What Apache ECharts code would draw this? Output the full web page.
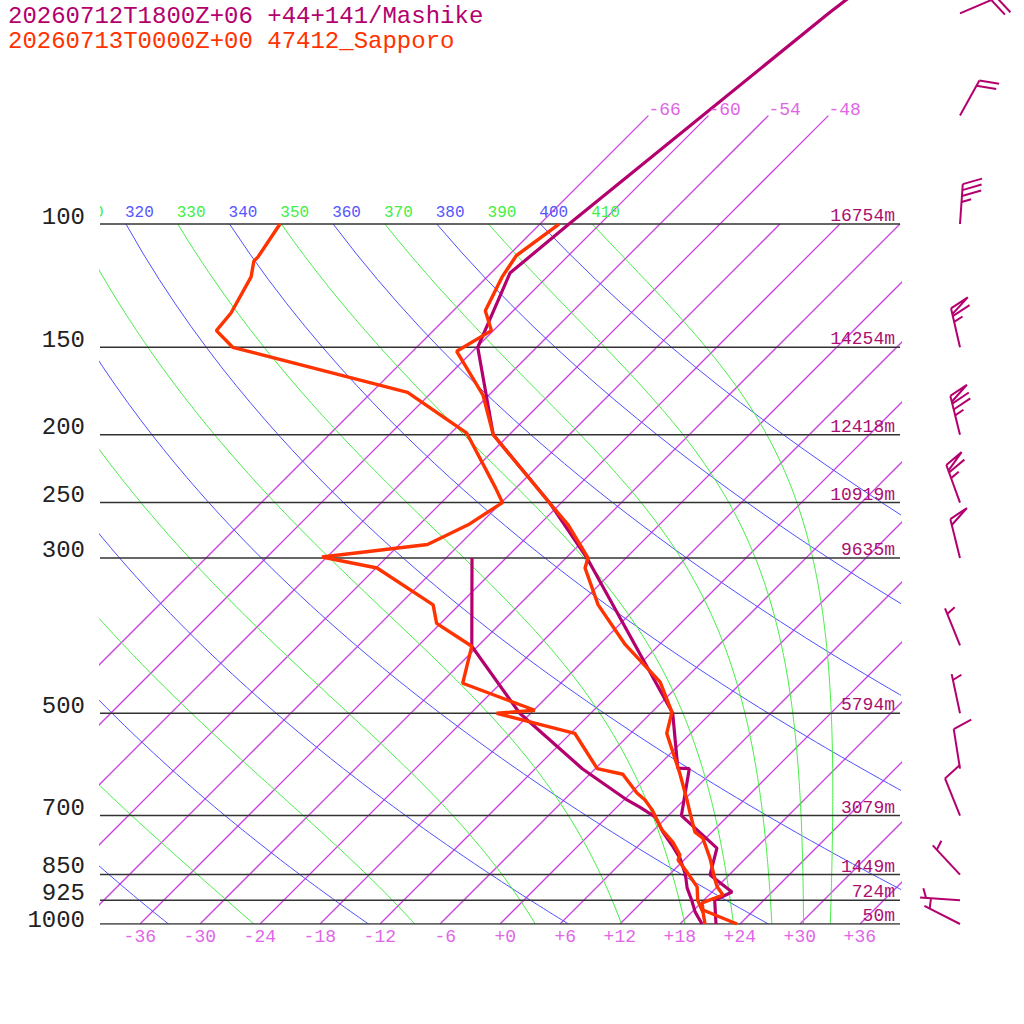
<!DOCTYPE html>
<html>
<head>
<meta charset="utf-8">
<title>Skew-T Mashike / Sapporo</title>
<script src="https://cdn.jsdelivr.net/npm/echarts@6.0.0/dist/echarts.min.js"></script>
<style>
  html, body { margin: 0; padding: 0; background: #fff; }
  #chart { width: 1024px; height: 1024px; }
</style>
</head>
<body>
<div id="chart"></div>
<script>
// pressure levels drawn as horizontal lines, with standard heights
var levelP = [100, 150, 200, 250, 300, 500, 700, 850, 925, 1000];
var levelH = ['16754m', '14254m', '12418m', '10919m', '9635m', '5794m', '3079m', '1449m', '724m', '50m'];
var levelDy = [-7, -7, -7, -7, -7, -7, -7, -8, -7, -4];
var tempTicks = [-36, -30, -24, -18, -12, -6, 0, 6, 12, 18, 24, 30, 36];
var isoTemps = [-66, -60, -54, -48, -42, -36, -30, -24, -18, -12, -6, 0, 6, 12, 18, 24, 30, 36];
var isoTopLabels = [-66, -60, -54, -48];
var dryTheta = [240, 260, 280, 300, 320, 340, 360, 380, 400];
var moistTheta = [250, 270, 290, 310, 330, 350, 370, 390, 410];
var thetaLabels = [310, 320, 330, 340, 350, 360, 370, 380, 390, 400, 410];

// Mashike (model)
var mashP  = [1000, 925, 900, 851, 779, 700, 600, 599, 500, 300, 250, 200, 150, 117.5, 100, 50, 30];
var mashT  = [21.6, 19.1, 20.0, 16.1, 14.1, 7.3, 3.4, 2.2, -3.8, -27.9, -37.2, -49.6, -59.9, -64.1, -63.1, -58.2, -53.6];
var mashTdP = [1000, 961, 925, 888, 850, 805, 776, 739, 703, 681, 665, 600, 500, 401, 300];
var mashTd  = [20.2, 18.3, 16.8, 15.1, 13.6, 11.4, 9.6, 7.1, 4.8, 2.3, 0.3, -7.3, -19.1, -30.6, -39.4];

// Sapporo (sonde)
var sapP = [1000, 955, 933, 909, 885, 865, 805, 754, 739, 694, 665, 609, 534, 498, 451, 399, 350, 310, 300, 269, 251, 200, 175.5, 152, 142, 133, 119, 111, 100];
var sapT = [23.7, 18.9, 18.1, 19.4, 18.0, 17.1, 14.4, 11.7, 10.3, 7.9, 6.3, 2.9, -2.4, -4.0, -8.2, -15.4, -22.1, -27.1, -27.8, -33.1, -37.0, -49.6, -54.6, -61.6, -60.2, -62.8, -64.5, -65.2, -64.1];
var sapTdP = [1000, 964, 925, 885, 843, 810, 797, 764, 734, 687, 665, 650, 611, 600, 534, 500, 495, 453, 401, 372, 350, 310, 299, 287, 269, 250, 238, 199, 174, 150, 142, 134, 119, 113, 111.5, 100];
var sapTd  = [20.5, 19.2, 17.4, 16.0, 13.5, 11.4, 11.1, 9.1, 6.8, 3.8, 2.1, 0.6, -2.7, -5.8, -11.6, -21.4, -17.9, -27.8, -30.6, -36.4, -38.6, -47.9, -54.5, -45.2, -43.1, -41.9, -44.1, -52.4, -62.4, -84.4, -87.7, -88.0, -89.6, -90.9, -90.9, -92.0];

// Mashike winds (knots)
var windP   = [50, 70, 100, 150, 200, 250, 300, 400, 500, 600, 700, 850, 925, 1000];
var windDir = [67, 29, 4, 347, 346, 340, 346, 338, 348, 351, 338, 317, 274, 297];
var windKt  = [20, 20, 35, 65, 75, 65, 50, 5, 5, 10, 10, 5, 5, 5];

var MASH = '#b4006e', SAP = '#ff3300', ISO = '#cc44e0';
var FONT = '"Liberation Mono", "DejaVu Sans Mono", monospace';

// y value is 30.4*ln(1000/p) so one unit equals one degree on x (45 deg skew)
function vOf(p) { return 30.4 * Math.log(1000 / p); }
function pt(p, t) { var v = vOf(p); return [t + v, v]; }

function moistSlope(T, p) {
    var tc = T - 273.15;
    var es = 6.112 * Math.exp(17.67 * tc / (tc + 243.5));
    var rs = 0.622 * es / (p - es);
    return (287.04 * T + 2.501e6 * rs) / (1005.7 + 2.501e6 * 2.501e6 * rs * 0.622 / (287.04 * T * T));
}
function moistLine(theta) {
    var T = theta * Math.pow(0.1, 0.2857);
    var lnp = Math.log(100), end = Math.log(1000), h = 0.01;
    var out = [pt(100, T - 273.15)];
    while (lnp < end - 1e-9) {
        var s = Math.min(h, end - lnp);
        var k1 = moistSlope(T, Math.exp(lnp));
        var k2 = moistSlope(T + k1 * s, Math.exp(lnp + s));
        T += 0.5 * (k1 + k2) * s;
        lnp += s;
        out.push(pt(Math.exp(lnp), T - 273.15));
    }
    return out;
}
function dryLine(theta) {
    var out = [];
    for (var p = 100; p <= 1000; p += 10) {
        out.push(pt(p, theta * Math.pow(p / 1000, 0.2857) - 273.15));
    }
    return out;
}
// the coldest isotherms reach up to 70 hPa
function isoLine(t) {
    return [pt(1000, t), pt(t <= -48 ? 70 : 100, t)];
}

function lineSeries(data, color, width, z) {
    return {
        type: 'line', data: data, showSymbol: false, symbol: 'none', silent: true, z: z,
        color: color, itemStyle: { color: color },
        lineStyle: { color: color, width: width }, animation: false
    };
}

function textSeries(items, clip) {
    return {
        type: 'custom', silent: true, clip: clip, z: 5, animation: false,
        data: items.map(function (it) { return it.v; }),
        renderItem: function (params, api) {
            var it = items[params.dataIndex];
            var c = api.coord([api.value(0), api.value(1)]);
            return {
                type: 'text', x: c[0] + (it.dx || 0), y: c[1] + (it.dy || 0),
                style: {
                    text: it.text, fill: it.color, font: it.font || (it.size + 'px ' + FONT),
                    align: it.align, verticalAlign: 'middle'
                }
            };
        }
    };
}

function barbItem(params, api) {
    var i = params.dataIndex;
    var base = api.coord([api.value(0), api.value(1)]);
    var d = windDir[i] * Math.PI / 180;
    var sx = Math.sin(d), sy = -Math.cos(d);
    var tip = [base[0] + sx * 40, base[1] + sy * 40];
    var a = 70 * Math.PI / 180;
    var fx = sx * Math.cos(a) - sy * Math.sin(a), fy = sx * Math.sin(a) + sy * Math.cos(a);
    var st = { stroke: MASH, lineWidth: 2, fill: null };
    var kids = [{ type: 'line', shape: { x1: base[0], y1: base[1], x2: tip[0], y2: tip[1] }, style: st }];
    var spd = windKt[i];
    var n50 = Math.floor(spd / 50), rem = spd - n50 * 50;
    var n10 = Math.floor(rem / 10), n5 = (rem - n10 * 10) >= 5 ? 1 : 0;
    var pos = 0;
    function at(k) { return [tip[0] - sx * k, tip[1] - sy * k]; }
    for (var j = 0; j < n50; j++) {
        var p0 = at(pos), p2 = at(pos + 6);
        kids.push({ type: 'polyline', shape: { points: [p0, [p0[0] + fx * 20, p0[1] + fy * 20], p2] }, style: st });
        pos += 8;
    }
    for (j = 0; j < n10; j++) {
        var q = at(pos);
        kids.push({ type: 'line', shape: { x1: q[0], y1: q[1], x2: q[0] + fx * 20, y2: q[1] + fy * 20 }, style: st });
        pos += 6;
    }
    if (n5) {
        if (n50 + n10 === 0) pos = 6;
        var h = at(pos);
        kids.push({ type: 'line', shape: { x1: h[0], y1: h[1], x2: h[0] + fx * 10, y2: h[1] + fy * 10 }, style: st });
    }
    return { type: 'group', children: kids };
}

var series = [];

isoTemps.forEach(function (t) { series.push(lineSeries(isoLine(t), ISO, 1.3, 1)); });
dryTheta.forEach(function (th) { series.push(lineSeries(dryLine(th), '#5050ff', 1, 1)); });
moistTheta.forEach(function (th) { series.push(lineSeries(moistLine(th), '#44ee44', 1, 1)); });
levelP.forEach(function (p) {
    series.push(lineSeries([[-40, vOf(p)], [40, vOf(p)]], '#333333', 1.5, 2));
});

// soundings
series.push(lineSeries(mashP.map(function (p, i) { return pt(p, mashT[i]); }), MASH, 3.2, 3));
series.push(lineSeries(mashTdP.map(function (p, i) { return pt(p, mashTd[i]); }), MASH, 3.2, 3));
series.push(lineSeries(sapP.map(function (p, i) { return pt(p, sapT[i]); }), SAP, 3.4, 4));
series.push(lineSeries(sapTdP.map(function (p, i) { return pt(p, sapTd[i]); }), SAP, 3.4, 4));

// texts
var outside = [];
levelP.forEach(function (p, i) {
    outside.push({ v: [-40, vOf(p)], text: String(p), color: '#222', size: 24,
                   align: 'right', dx: -15, dy: levelDy[i] });
    outside.push({ v: [40, vOf(p)], text: levelH[i], color: '#aa1070', size: 18, align: 'right', dx: -5, dy: -8 });
});
tempTicks.forEach(function (t) {
    outside.push({ v: [t, 0], text: (t >= 0 ? '+' : '') + t, color: '#e066e6', size: 18, align: 'right', dx: 16, dy: 13 });
});
isoTopLabels.forEach(function (t) {
    outside.push({ v: pt(70, t), text: String(t), color: '#e066e6', size: 18, align: 'left', dx: 0, dy: -6 });
});
series.push(textSeries(outside, false));

// theta labels along 100 hPa, clipped to the plot; a label starting left of
// the plot only shows its last digit peeking in
var inside = thetaLabels.map(function (th) {
    var v = pt(100, th * Math.pow(0.1, 0.2857) - 273.15);
    var txt = String(th), dx = -1;
    if (v[0] < -40) { txt = txt.slice(-1); dx = (-40 - v[0]) * 10 - 6; }
    return {
        v: v, text: txt,
        color: (th / 10) % 2 === 0 ? '#5555ff' : '#44ee44', size: 16, align: 'left', dx: dx, dy: -11
    };
});
series.push(textSeries(inside, true));

// wind barbs, column at x = 960px
series.push({
    type: 'custom', silent: true, clip: false, z: 6, animation: false,
    data: windP.map(function (p) { return [46, vOf(p)]; }),
    renderItem: barbItem
});

var chart = echarts.init(document.getElementById('chart'), null, { renderer: 'svg' });
chart.setOption({
    animation: false,
    backgroundColor: '#fff',
    title: [
        { text: '20260712T1800Z+06 +44+141/Mashike', left: 8, top: 4, padding: 0,
          textStyle: { fontFamily: FONT, fontSize: 24, lineHeight: 24, fontWeight: 'normal', color: MASH } },
        { text: '20260713T0000Z+00 47412_Sapporo', left: 8, top: 29, padding: 0,
          textStyle: { fontFamily: FONT, fontSize: 24, lineHeight: 24, fontWeight: 'normal', color: SAP } }
    ],
    grid: { left: 100, right: 124, top: 0, bottom: 100 },
    xAxis: { type: 'value', min: -40, max: 40, show: false },
    yAxis: { type: 'value', min: 0, max: 92.4, show: false },
    series: series
});
</script>
</body>
</html>
